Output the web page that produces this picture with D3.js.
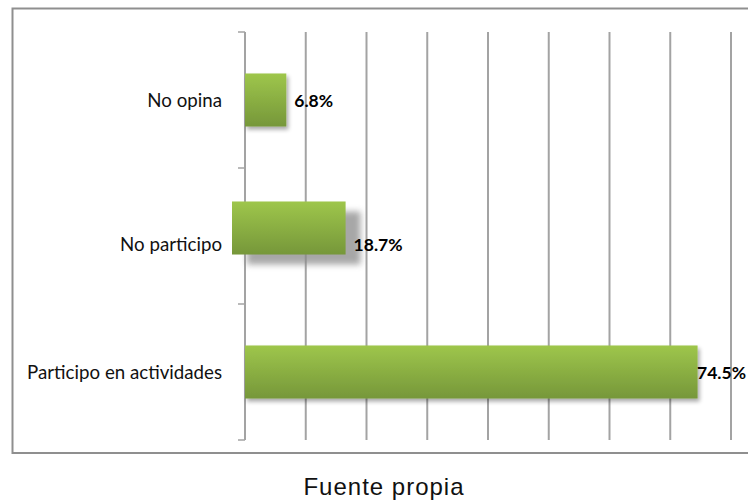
<!DOCTYPE html>
<html><head><meta charset="utf-8">
<script src="https://cdn.jsdelivr.net/npm/d3@7"></script>
<style>body{margin:0;background:#fff}svg{display:block}</style></head>
<body>
<svg id="c" width="748" height="504"></svg>
<script>
const categories = ["No opina", "No participo", "Participo en actividades"];
const values = [6.8, 18.7, 74.5];
const valueLabels = ["6.8%", "18.7%", "74.5%"];
const gridTicks = [0, 10, 20, 30, 40, 50, 60, 70, 80];
const sourceText = "Fuente propia";

const svg = d3.select("#c");
const x = d3.scaleLinear().domain([0, 80]).range([245, 731]);
const y = d3.scaleBand().domain(categories).range([32, 440]).paddingInner(0.61).paddingOuter(0.305);

const defs = svg.append("defs");
const grad = defs.append("linearGradient").attr("id", "g").attr("x1", 0).attr("y1", 0).attr("x2", 0).attr("y2", 1);
grad.append("stop").attr("offset", "0%").attr("stop-color", "#9ec64b");
grad.append("stop").attr("offset", "100%").attr("stop-color", "#76973a");

const f = defs.append("filter").attr("id", "sh").attr("x", "-10%").attr("y", "-20%").attr("width", "130%").attr("height", "150%");
f.append("feGaussianBlur").attr("in", "SourceAlpha").attr("stdDeviation", 2.2);
f.append("feOffset").attr("dx", 2).attr("dy", 3).attr("result", "o");
f.append("feComponentTransfer").append("feFuncA").attr("type", "linear").attr("slope", 0.35);
const fm = f.append("feMerge");
fm.append("feMergeNode");
fm.append("feMergeNode").attr("in", "SourceGraphic");

const fb = defs.append("filter").attr("id", "blur").attr("x", "-20%").attr("y", "-30%").attr("width", "140%").attr("height", "160%");
fb.append("feGaussianBlur").attr("stdDeviation", 3);

// outer frame
svg.append("rect").attr("x", 12.5).attr("y", 8.5).attr("width", 760).attr("height", 444.5)
  .attr("fill", "#fff").attr("stroke", "#8f8f8f").attr("stroke-width", 2);

// gridlines
const [y0, y1] = y.range();
svg.append("g").selectAll("line").data(gridTicks).join("line")
  .attr("x1", d => x(d)).attr("x2", d => x(d))
  .attr("y1", y0).attr("y2", y1)
  .attr("stroke", "#a3a3a3").attr("stroke-width", 2);

// category axis ticks
const n = categories.length;
const bounds = d3.range(n + 1).map(i => y0 + i * (y1 - y0) / n);
svg.append("g").selectAll("line").data(bounds).join("line")
  .attr("x1", x(0) - 7).attr("x2", x(0))
  .attr("y1", d => d).attr("y2", d => d)
  .attr("stroke", "#a3a3a3").attr("stroke-width", 1.5);

// displaced bar quirk (second category), shadow stays in place
const shift = (i) => i === 1 ? { dx: -13, dy: -8 } : { dx: 0, dy: 0 };

const data = categories.map((c, i) => ({ c, v: values[i], lab: valueLabels[i], i }));

// detached shadow for the displaced bar
svg.append("g").selectAll("rect").data(data.filter(d => shift(d.i).dx !== 0)).join("rect")
  .attr("x", d => x(0) + 2).attr("y", d => y(d.c) + 2)
  .attr("width", d => x(d.v) - x(0)).attr("height", y.bandwidth())
  .attr("fill", "#8a8a8a").attr("opacity", 0.75).attr("filter", "url(#blur)");

svg.append("g").selectAll("rect.bar").data(data).join("rect")
  .attr("class", "bar")
  .attr("x", d => x(0) + shift(d.i).dx).attr("y", d => y(d.c) + shift(d.i).dy)
  .attr("width", d => x(d.v) - x(0)).attr("height", y.bandwidth())
  .attr("fill", "url(#g)").attr("filter", d => shift(d.i).dx !== 0 ? null : "url(#sh)");

// category labels
svg.append("g").selectAll("text").data(data).join("text")
  .attr("x", 222).attr("y", d => y(d.c) + y.bandwidth() / 2 + (d.i === 1 ? 8 : 0))
  .attr("text-anchor", "end").attr("dominant-baseline", "central")
  .attr("font-family", "Lato, 'Open Sans', sans-serif").attr("font-size", 18.7).attr("fill", "#111")
  .text(d => d.c);

// value labels
svg.append("g").selectAll("text").data(data).join("text")
  .attr("y", d => y(d.c) + y.bandwidth() / 2 + (d.i === 1 ? 8 : 0))
  .attr("dominant-baseline", "central")
  .attr("font-family", "Lato, 'Open Sans', sans-serif").attr("font-weight", "bold").attr("font-size", 17.5).attr("fill", "#000")
  .text(d => d.lab)
  .attr("x", function(d) {
    const w = this.getComputedTextLength();
    const end = x(d.v) + shift(d.i).dx;
    return Math.min(end + 8, 746 - w);
  });

// source
svg.append("text").attr("x", 384).attr("y", 495).attr("text-anchor", "middle")
  .attr("font-family", "'Liberation Sans', Arial, sans-serif").attr("font-size", 24)
  .attr("letter-spacing", 1).attr("fill", "#111").text(sourceText);
</script>
</body></html>
